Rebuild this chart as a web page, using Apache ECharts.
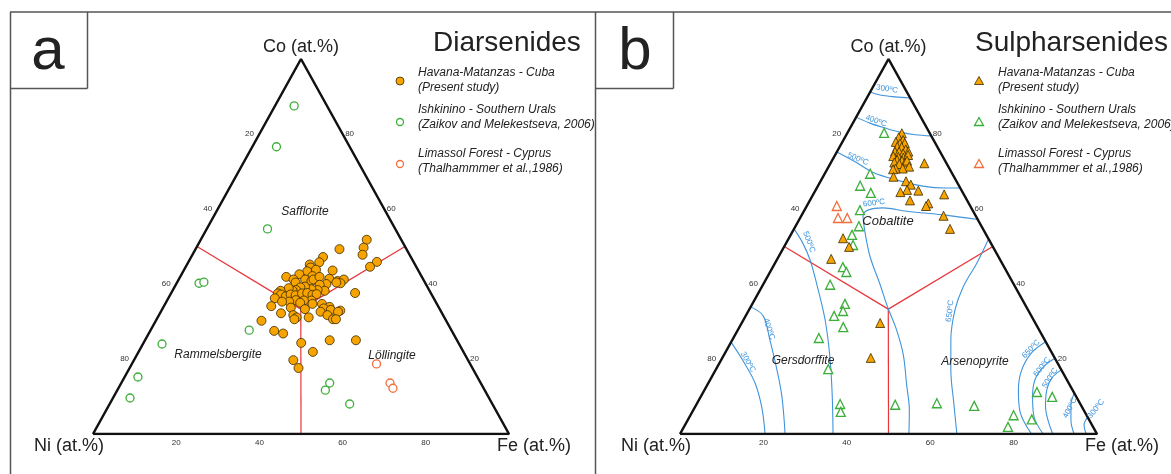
<!DOCTYPE html>
<html>
<head>
<meta charset="utf-8">
<script src="https://cdn.jsdelivr.net/npm/echarts@6/dist/echarts.min.js"></script>
<style>
html,body{margin:0;padding:0;background:#fff;}
#chart{width:1171px;height:474px;}
</style>
</head>
<body>
<div id="chart"></div>
<script>
// every point is [Fe, Co] in at.%, Ni = 100 - Fe - Co
const diarsHavana = [
  [39.9,51.8],[34.6,49.3],[40.2,49.7],[40.9,47.8],[31.7,47.2],[45.3,45.9],[44.3,44.6],[44.2,37.6],[31.5,45.8],[29.5,45.2],
  [30.1,44.4],[29.8,43.4],[31.7,43.8],[31.7,42.1],[35.8,43.6],[25.5,41.9],[28.3,42.6],[27.6,41.2],[28.5,40.4],[30.4,41.2],
  [32.1,40.8],[32.4,41.2],[33.5,41.9],[36.1,41.4],[38.4,40.8],[39.7,41.2],[39.4,40.2],[38.3,40.4],[36.1,40.0],[34.6,39.8],
  [36.6,38.2],[34.8,38.4],[33.2,38.6],[31.3,39.3],[30.3,39.1],[29.6,38.4],[28.9,38.2],[27.6,38.9],[26.0,38.2],[25.7,37.5],
  [26.6,37.2],[25.6,36.2],[28.0,36.7],[28.9,37.2],[30.2,37.0],[31.5,37.5],[32.7,37.6],[34.2,37.1],[35.1,37.3],[34.7,35.6],
  [32.9,35.6],[30.9,35.7],[29.5,35.3],[27.8,35.3],[25.8,34.1],[30.7,33.7],[32.3,35.0],[35.4,34.7],[37.7,34.7],[39.9,33.9],
  [38.7,33.5],[40.6,33.1],[38.4,32.6],[43.0,32.9],[42.6,32.6],[34.3,33.3],[29.1,32.2],[32.3,31.7],[33.4,31.1],[33.1,30.6],
  [40.5,31.7],[42.4,30.6],[43.1,30.6],[36.3,31.1],[25.4,30.2],[29.8,27.5],[32.3,26.8],[37.9,24.3],[44.4,25.0],[50.7,25.0],
  [38.3,19.7],[40.6,17.6],[41.9,21.9]
];
const diarsIshkinino = [[4.6,87.5],[5.8,76.6],[14.6,54.7],[5.4,40.2],[6.4,40.5],[23.7,27.7],[4.6,24.0],[3.2,15.2],[4.1,9.6],[50.1,13.6],[50.0,11.7],[57.7,8.0]];
const diarsLimassol = [[58.8,18.7],[64.6,13.6],[66.0,12.2]];

const sulphHavana = [
  [13.1,80.2],[12.9,79.1],[14.3,78.4],[12.8,77.9],[14.0,77.5],[15.1,77.6],[13.8,76.6],[14.9,76.5],[16.2,75.9],[17.1,75.3],
  [13.9,75.3],[14.9,75.3],[16.1,74.8],[14.1,74.1],[15.4,73.9],[16.7,73.7],[17.5,74.4],[15.5,73.1],[16.8,72.9],[17.8,72.4],
  [15.2,72.4],[16.6,72.0],[18.0,72.9],[19.3,71.3],[18.0,70.8],[16.3,70.8],[15.8,70.6],[22.5,72.2],[16.9,68.6],[20.5,67.4],
  [22.1,66.5],[21.9,65.1],[20.6,64.5],[24.7,64.9],[31.4,63.9],[24.0,62.3],[28.8,61.5],[28.6,60.8],[34.1,58.2],[37.4,54.7],
  [13.0,52.2],[15.6,49.9],[12.9,46.7],[33.2,29.6],[35.6,20.3]
];
const sulphIshkinino = [[8.8,80.3],[10.9,69.4],[10.1,66.2],[13.6,64.3],[13.3,59.7],[15.2,55.4],[14.7,53.1],[16.3,50.4],[16.8,44.5],[18.3,43.2],
  [16.1,39.8],[22.2,34.7],[22.7,32.8],[21.2,31.5],[24.9,28.5],[20.5,25.6],[26.9,17.3],[34.4,8.0],[35.6,5.9],[47.7,7.8],
  [57.5,8.2],[66.8,7.5],[77.5,5.0],[77.7,1.9],[82.4,3.9],[80.0,11.2],[84.3,9.9]];
const sulphLimassol = [[7.2,60.8],[9.1,57.6],[11.3,57.6]];

// field boundaries and isotherms, [Fe, Co]
const fieldCenter = [33.3,33.3];
const fieldEnds = [[0,50],[50,50],[50,0]];
const iso300Co = [[0,91.2],[2.8,90.4],[6.6,89.9],[10.4,89.6]];
const iso400Co = [[0,84.5],[4.1,82.9],[8.4,81.6],[12.5,80.5],[16.5,79.8],[20.5,79.5]];
const iso500Co = [[0,75.2],[5.7,72.6],[11.3,69.8],[18.2,67.7],[25.2,66.1],[30.8,65.6],[34.4,65.6]];
const iso600 = [[42.8,57.2],[34.9,58.3],[24.7,59.4],[18.5,60.3],[15.2,59.7],[14.8,58.2],[17.4,53.9],[22.0,47.2],[28.1,39.8],[32.9,33.8],[38.1,27.7],[43.0,21.1],[47.8,13.1],[51.8,6.4],[54.9,0]];
const iso650 = [[48,52],[48.4,45.6],[48.3,39.2],[49.4,33.1],[52.4,25.1],[56.4,17.1],[61.5,8.3],[66.4,0]];
const iso500Ni = [[0,54.7],[4.0,50.9],[8.0,46.4],[13.0,39.7],[19.6,30.4],[25.7,20.5],[31.3,10.4],[36.7,0]];
const iso400Ni = [[0,33.9],[4.2,31.5],[9.0,25.1],[14.7,17.1],[19.5,9.9],[25.2,0]];
const iso300Ni = [[0,24.5],[5.7,19.2],[11.2,13.6],[16.2,6.9],[20.4,0]];
const iso650Fe = [[75.4,24.6],[73.5,21.7],[73.4,17.1],[75.3,11.7],[78.6,5.9],[84.3,0]];
const iso600Fe = [[79.8,20.2],[78.2,17.9],[77.9,14.4],[79.6,9.9],[82.6,4.6],[87.1,0]];
const iso500Fe = [[82.9,17.1],[81.7,14.9],[82.1,11.7],[84.0,7.3],[86.7,3.3],[89.4,0]];
const iso400Fe = [[89.1,10.9],[89.9,7.7],[91.9,3.7],[94.5,0]];
const iso300Fe = [[95.5,4.5],[95.7,2.4],[97.4,0]];

const tickValues = [20,40,60,80];

const FONT = '"Liberation Sans", Arial, sans-serif';
const ORANGE = '#f7a400', GREEN = '#3dae3a', LIMA = '#f26e3e', BLUE = '#3f94dc', RED = '#e8343a';
const grids = [
  {left:93, top:59, width:416, height:375},
  {left:680, top:59, width:417, height:375}
];

function toXY(p){ return [p[0] + p[1]/2, p[1]]; }
function pix(g, fe, co){
  let gr = grids[g];
  return [gr.left + (fe + co/2)/100*gr.width, gr.top + (1 - co/100)*gr.height];
}

let series = [];
function lineSeries(g, pts, color, width, smooth, z){
  series.push({
    type:'line', xAxisIndex:g, yAxisIndex:g, data:pts.map(toXY), showSymbol:false, symbol:'none',
    smooth:smooth, lineStyle:{color:color, width:width}, silent:true, z:z, animation:false
  });
}
function scatterSeries(g, pts, symbol, size, fill, border, bw){
  series.push({
    type:'scatter', xAxisIndex:g, yAxisIndex:g, data:pts.map(toXY), symbol:symbol, symbolSize:size,
    itemStyle:{color:fill, borderColor:border, borderWidth:bw, opacity:1}, silent:true, z:5, animation:false
  });
}

for (let g = 0; g < 2; g++) {
  fieldEnds.forEach(e => lineSeries(g, [fieldCenter, e], RED, 1.2, false, 2));
}
[iso300Co, iso400Co, iso500Co, iso600, iso650, iso500Ni, iso400Ni, iso300Ni,
 iso650Fe, iso600Fe, iso500Fe, iso400Fe, iso300Fe].forEach(c => lineSeries(1, c, BLUE, 1.1, 0.35, 2));
for (let g = 0; g < 2; g++) {
  lineSeries(g, [[0,0],[100,0],[0,100],[0,0]], '#111', 2.5, false, 4);
}

scatterSeries(0, diarsIshkinino, 'circle', 8, '#fff', GREEN, 1.3);
scatterSeries(0, diarsLimassol, 'circle', 8, '#fff', LIMA, 1.3);
scatterSeries(0, diarsHavana, 'circle', 9, ORANGE, '#3a2a00', 0.8);
scatterSeries(1, sulphIshkinino, 'triangle', 9, '#fff', GREEN, 1.3);
scatterSeries(1, sulphLimassol, 'triangle', 9, '#fff', LIMA, 1.3);
scatterSeries(1, sulphHavana, 'triangle', 9, ORANGE, '#3a2a00', 0.8);

let graphic = [];
function txt(x, y, text, size, opts){
  opts = opts || {};
  graphic.push({
    type:'text', x:x, y:y, rotation:opts.rot || 0, z:10, silent:true,
    style:{text:text, fill:opts.color || '#222', font:(opts.italic ? 'italic ' : '') + size + 'px ' + FONT,
      align:opts.align || 'center', verticalAlign:opts.valign || 'middle', lineHeight:opts.lh}
  });
}
function ln(x1, y1, x2, y2, w, c){
  graphic.push({type:'line', shape:{x1:x1, y1:y1, x2:x2, y2:y2}, style:{stroke:c || '#555', lineWidth:w || 1.5}, silent:true, z:10});
}

// frame and panel letters
ln(10, 12, 1171, 12);
ln(10.5, 12, 10.5, 474);
ln(595.5, 12, 595.5, 474);
ln(10, 88.5, 87.5, 88.5); ln(87.5, 12, 87.5, 88.5);
ln(596, 88.5, 673.5, 88.5); ln(673.5, 12, 673.5, 88.5);
txt(48, 52, 'a', 60);
txt(635, 52, 'b', 60);

// titles
txt(433, 43, 'Diarsenides', 28, {align:'left'});
txt(975, 43, 'Sulpharsenides', 28, {align:'left'});

// corner labels and tick labels
for (let g = 0; g < 2; g++) {
  let top = pix(g, 0, 100), left = pix(g, 0, 0), right = pix(g, 100, 0);
  txt(top[0], 47, 'Co (at.%)', 18);
  txt(left[0] - 24, 446, 'Ni (at.%)', 18);
  txt(right[0] + 25, 446, 'Fe (at.%)', 18);
  tickValues.forEach(v => {
    let p = pix(g, 0, 100 - v);
    txt(p[0] - 10, p[1], String(v), 8, {color:'#333'});
    p = pix(g, 100 - v, v);
    txt(p[0] + 7, p[1], String(v), 8, {color:'#333'});
    p = pix(g, v, 0);
    txt(p[0], p[1] + 9, String(v), 8, {color:'#333'});
  });
}

// field names
txt(305, 212, 'Safflorite', 12, {italic:true});
txt(218, 355, 'Rammelsbergite', 12, {italic:true});
txt(392, 356, 'Löllingite', 12, {italic:true});
txt(888, 221, 'Cobaltite', 13, {italic:true});
txt(803, 361, 'Gersdorffite', 12, {italic:true});
txt(975, 362, 'Arsenopyrite', 12, {italic:true});

// isotherm labels
const isoLabels = [
  [887, 89, '300ºC', -0.15], [876, 121, '400ºC', -0.35], [858, 159, '500ºC', -0.4], [874, 203, '600ºC', 0.12],
  [809, 242, '500ºC', -1.2], [769, 329, '400ºC', -1.25], [748, 362, '300ºC', -1.05], [950, 311, '650ºC', 1.45],
  [1031, 349, '650ºC', 0.8], [1042, 367, '600ºC', 0.9], [1050, 378, '500ºC', 1.0], [1070, 408, '400ºC', 1.1],
  [1096, 409, '300ºC', 0.9]
];
isoLabels.forEach(l => txt(l[0], l[1], l[2], 8, {color:BLUE, rot:l[3]}));

// legends
const legendNames = [
  'Havana-Matanzas - Cuba\n(Present study)',
  'Ishkinino - Southern Urals\n(Zaikov and Melekestseva, 2006)',
  'Limassol Forest - Cyprus\n(Thalhammmer et al.,1986)'
];
const legendY = [73, 110, 154];
const markY = [81, 122, 164];
const legendFill = [ORANGE, '#fff', '#fff'];
const legendStroke = ['#3a2a00', GREEN, LIMA];
for (let i = 0; i < 3; i++) {
  txt(418, legendY[i] - 7.5, legendNames[i], 12, {italic:true, align:'left', valign:'top', lh:15});
  txt(998, legendY[i] - 7.5, legendNames[i], 12, {italic:true, align:'left', valign:'top', lh:15});
  graphic.push({type:'circle', shape:{cx:400, cy:markY[i], r:i === 0 ? 4 : 3.5},
    style:{fill:legendFill[i], stroke:legendStroke[i], lineWidth:i === 0 ? 0.8 : 1.3}, z:10, silent:true});
  graphic.push({type:'polygon', shape:{points:[[979, markY[i] - 4.5], [983.5, markY[i] + 3.5], [974.5, markY[i] + 3.5]]},
    style:{fill:legendFill[i], stroke:legendStroke[i], lineWidth:i === 0 ? 0.8 : 1.3}, z:10, silent:true});
}

let myChart = echarts.init(document.getElementById('chart'));
let option = {
  animation:false,
  backgroundColor:'#fff',
  grid:grids.map(g => ({left:g.left, top:g.top, width:g.width, height:g.height})),
  xAxis:[0,1].map(i => ({gridIndex:i, type:'value', min:0, max:100, show:false})),
  yAxis:[0,1].map(i => ({gridIndex:i, type:'value', min:0, max:100, show:false})),
  series:series,
  graphic:graphic
};
myChart.setOption(option);
</script>
</body>
</html>
